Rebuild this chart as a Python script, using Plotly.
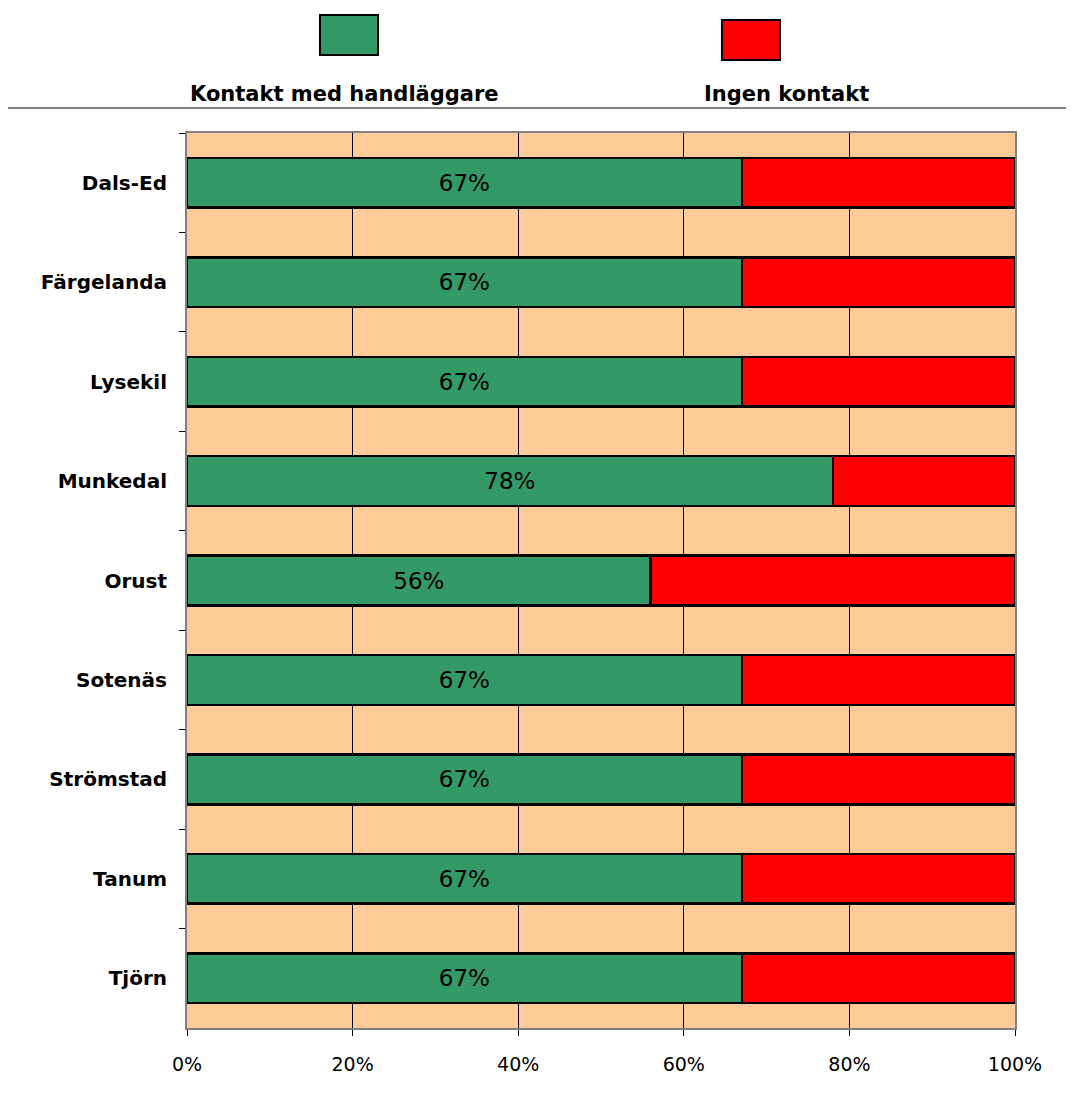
import plotly.graph_objects as go

municipalities = ["Dals-Ed", "Färgelanda", "Lysekil", "Munkedal", "Orust",
                  "Sotenäs", "Strömstad", "Tanum", "Tjörn"]
kontakt = [67, 67, 67, 78, 56, 67, 67, 67, 67]
ingen = [33, 33, 33, 22, 44, 33, 33, 33, 33]
series_names = ["Kontakt med handläggare", "Ingen kontakt"]
series_colors = ["#339966", "#FF0000"]
x_tickvals = [0, 20, 40, 60, 80, 100]
x_ticktext = ["0%", "20%", "40%", "60%", "80%", "100%"]

FONT = "DejaVu Sans, Arial, sans-serif"

fig = go.Figure()
fig.add_trace(go.Bar(
    y=municipalities, x=kontakt, orientation="h", name=series_names[0],
    marker=dict(color=series_colors[0], line=dict(color="black", width=2.5)),
    text=[f"{v}%" for v in kontakt], textposition="inside",
    insidetextanchor="middle",
    textfont=dict(family=FONT, size=23, color="black"),
    showlegend=False,
))
fig.add_trace(go.Bar(
    y=municipalities, x=ingen, orientation="h", name=series_names[1],
    marker=dict(color=series_colors[1], line=dict(color="black", width=2.5)),
    showlegend=False,
))

# custom legend: boxes above labels
legend_boxes = [
    dict(x0=0.1606, x1=0.2307, y0=1.0872, y1=1.1318),
    dict(x0=0.6461, x1=0.7162, y0=1.0816, y1=1.1263),
]
legend_label_x = [0.1908, 0.7246]
shapes = []
annotations = []
for box, col, name, lx in zip(legend_boxes, series_colors, series_names, legend_label_x):
    shapes.append(dict(type="rect", xref="paper", yref="paper", **box,
                       fillcolor=col, line=dict(color="black", width=2)))
    annotations.append(dict(xref="paper", yref="paper", x=lx, y=1.0436,
                            text=f"<b>{name}</b>", showarrow=False,
                            xanchor="center", yanchor="middle",
                            font=dict(family=FONT, size=21, color="black")))
shapes.append(dict(type="line", xref="paper", yref="paper", x0=-0.22, x1=1.1,
                   y0=1.0279, y1=1.0279, line=dict(color="black", width=1)))

fig.update_layout(
    width=1074, height=1097,
    margin=dict(l=179, r=67, t=125, b=77),
    paper_bgcolor="white", plot_bgcolor="#FFCC99",
    barmode="stack", bargap=0.5,
    shapes=shapes, annotations=annotations,
    font=dict(family=FONT, color="black"),
)
fig.update_xaxes(
    range=[0, 100], tickvals=x_tickvals, ticktext=x_ticktext,
    showgrid=True, gridcolor="black", gridwidth=1.2,
    ticks="outside", ticklen=6, tickcolor="black",
    showline=True, linecolor="#808080", linewidth=2, mirror=True,
    tickfont=dict(family=FONT, size=19, color="black"),
    ticklabelstandoff=12, zeroline=False,
)
fig.update_yaxes(
    type="category", autorange="reversed",
    tickson="boundaries", ticks="outside", ticklen=6, tickcolor="black",
    showgrid=False,
    showline=True, linecolor="#808080", linewidth=2, mirror=True,
    tickfont=dict(family=FONT, size=20, color="black", weight="bold"),
    ticklabelstandoff=14,
)

fig.write_html("out.html")
